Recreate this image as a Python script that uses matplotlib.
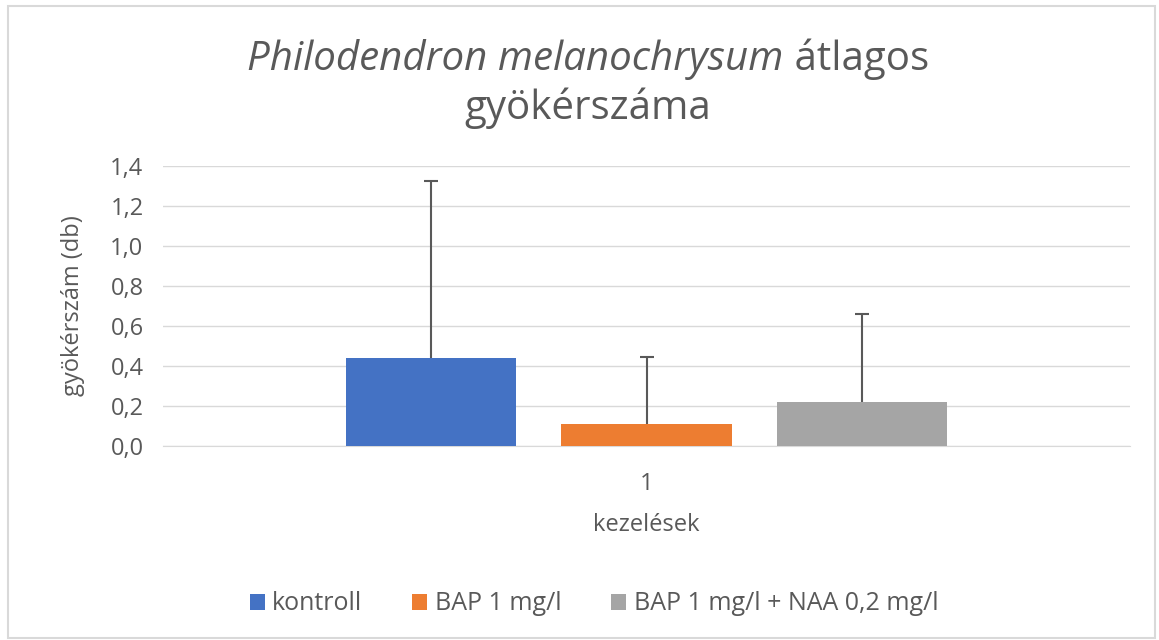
import matplotlib.pyplot as plt
from matplotlib.patches import Rectangle

# adatok
kezelesek = ["kontroll", "BAP 1 mg/l", "BAP 1 mg/l + NAA 0,2 mg/l"]
atlag = [0.44, 0.11, 0.22]
szoras = [0.885, 0.335, 0.44]
szinek = ["#4472C4", "#ED7D31", "#A5A5A5"]
yticks = [0.0, 0.2, 0.4, 0.6, 0.8, 1.0, 1.2, 1.4]

plt.rcParams['font.family'] = ['Open Sans', 'DejaVu Sans']
szurke = "#595959"

fig = plt.figure(figsize=(11.59, 6.4), dpi=100)
W, H = 1159, 640
ax = fig.add_axes([163 / W, 1 - 446 / H, 967 / W, 280 / H])

# keret a diagram körül
fig.patches.append(Rectangle((8 / W, 2 / H), 1147 / W, 1 - 8 / H,
                             transform=fig.transFigure, fill=False,
                             edgecolor="#d9d9d9", lw=1.5))

szel = 0.176
helyek = [0.5 - 0.2225, 0.5, 0.5 + 0.2225]
for x, m, s, c, nev in zip(helyek, atlag, szoras, szinek, kezelesek):
    ax.bar(x, m, width=szel, color=c, label=nev, zorder=3)
    eb = ax.errorbar(x, m, yerr=[[0], [s]], fmt="none", ecolor=szurke,
                     elinewidth=1.5, capsize=5, capthick=1.5, zorder=4)
    # csak felső hibasáv: az alsó sapkát elrejtjük
    eb[1][0].set_visible(False)

ax.set_xlim(0, 1)
ax.set_ylim(0, 1.4)
ax.set_yticks(yticks)
ax.set_yticklabels([f"{v:.1f}".replace(".", ",") for v in yticks])
ax.set_xticks([0.5])
ax.set_xticklabels(["1"])
ax.tick_params(axis="both", length=0, labelsize=17, colors=szurke)
ax.tick_params(axis="y", pad=14)
ax.tick_params(axis="x", pad=19)
ax.grid(axis="y", color="#d9d9d9", lw=1, zorder=0)
for sp in ["top", "right", "left"]:
    ax.spines[sp].set_visible(False)
ax.spines["bottom"].set_color("#d9d9d9")

ax.set_ylabel("gyökérszám (db)", fontsize=17, color=szurke)
ax.set_xlabel("kezelések", fontsize=17, color=szurke)
ax.yaxis.set_label_coords(-0.093, 0.5)
ax.xaxis.set_label_coords(0.5, -0.282)
ax.xaxis.label.set_va("center")
ax.yaxis.label.set_va("center")

# cím: dőlt + álló rész egy sorban
fig.canvas.draw()
r = fig.canvas.get_renderer()
t1 = fig.text(0, 1 - 70 / H, "Philodendron melanochrysum", fontsize=29,
              style="italic", color=szurke, ha="left", va="baseline")
t2 = fig.text(0, 1 - 70 / H, " átlagos", fontsize=29,
              color=szurke, ha="left", va="baseline")
w1 = t1.get_window_extent(r).width
w2 = t2.get_window_extent(r).width
x0 = 588 - (w1 + w2) / 2
t1.set_x(x0 / W)
t2.set_x((x0 + w1) / W)
fig.text(588 / W, 1 - 119 / H, "gyökérszáma", fontsize=29, color=szurke,
         ha="center", va="baseline")

fig.legend(loc="center", bbox_to_anchor=(594 / W, 1 - 604 / H), ncol=3,
           frameon=False, fontsize=18, labelcolor=szurke, handlelength=0.6,
           handleheight=0.6, handletextpad=0.3, columnspacing=2.0)

fig.savefig("out.png", dpi=100)
